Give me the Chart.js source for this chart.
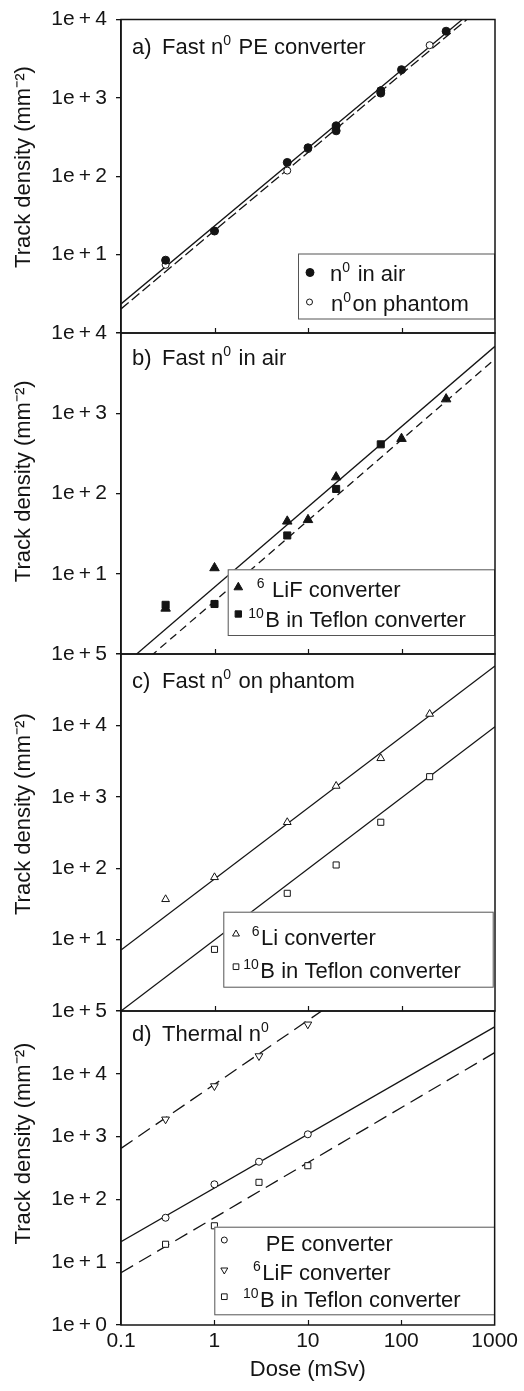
<!DOCTYPE html>
<html>
<head>
<meta charset="UTF-8">
<title>Track density vs dose</title>
<script src="https://cdn.jsdelivr.net/npm/chart.js"></script>
<style>
  body { margin: 0; background: #fff; }
  #wrap { position: relative; width: 524px; height: 1391px; }
  #wrap canvas { position: absolute; left: 0; }
</style>
</head>
<body>
<div id="wrap">
  <canvas id="panelA" width="524" height="353" style="top:0px"></canvas>
  <canvas id="panelB" width="524" height="361" style="top:313px"></canvas>
  <canvas id="panelC" width="524" height="397" style="top:634px"></canvas>
  <canvas id="panelD" width="524" height="400" style="top:991px"></canvas>
</div>
<script>
// shared dose axis
const xTicks = [0.1, 1, 10, 100, 1000];
const xTickLabels = ['0.1', '1', '10', '100', '1000'];
const fitX = [0.1, 1000];

// a) fast n0, PE converter
const doseAirA = [0.3, 1, 6, 10, 20, 20, 60, 60, 100, 300];
const airA = [8.5, 20, 150, 231, 437, 380, 1232, 1150, 2290, 7090];
const dosePhantomA = [0.3, 1, 6, 10, 20, 60, 200];
const phantomA = [7.4, 20, 118, 222, 445, 1250, 4700];
const fitAirA = [2.35, 22300];
const fitPhantomA = [2.03, 20000];
const yTicksA = [1, 10, 100, 1000, 10000];
const yLabelsA = ['', '1e+1', '1e+2', '1e+3', '1e+4'];

// b) fast n0 in air
const doseLiFB = [0.3, 1, 6, 10, 20, 100, 300];
const lifB = [3.7, 11.8, 45, 47, 160, 482, 1500];
const doseBorB = [0.3, 1, 6, 20, 60];
const borB = [4.1, 4.2, 30, 114, 410];
const fitLiFB = [0.68, 6820];
const fitBorB = [0.45, 4730];
const yTicksB = [1, 10, 100, 1000, 10000];
const yLabelsB = ['', '1e+1', '1e+2', '1e+3', '1e+4'];

// c) fast n0 on phantom
const doseLiC = [0.3, 1, 6, 20, 60, 200];
const liC = [36.7, 74.5, 440, 1417, 3460, 14450];
const doseBorC = [1, 6, 20, 60, 200];
const borC = [7.3, 44.5, 111, 440, 1914];
const fitLiC = [7.15, 67900];
const fitBorC = [1.0, 9600];
const yTicksC = [1, 10, 100, 1000, 10000, 100000];
const yLabelsC = ['', '1e+1', '1e+2', '1e+3', '1e+4', '1e+5'];

// d) thermal n0
const doseD = [0.3, 1, 3, 10];
const peD = [51, 174, 398, 1088];
const lifD = [1885, 6390, 19200, 61400];
const borD = [19.3, 38, 187, 344];
const fitPeD = [21.2, 56000];
const fitLiFD = [650, 7700000];
const fitBorD = [6.8, 21700];
const yTicksD = [1, 10, 100, 1000, 10000, 100000];
const yLabelsD = ['1e+0', '1e+1', '1e+2', '1e+3', '1e+4', '1e+5'];

const INK = '#141414';
const FONT = "'Liberation Sans', Arial, Helvetica, sans-serif";
const MAIN = 22, SUP = 14, RAISE = 9;

function pts(xs, ys) { return xs.map((x, i) => ({ x: x, y: ys[i] })); }

function marks(xs, ys, style, r, filled, rot) {
  return {
    data: pts(xs, ys), showLine: false,
    pointStyle: style, pointRadius: r, pointRotation: rot || 0,
    pointBackgroundColor: filled ? INK : '#fff', pointBorderColor: INK, pointBorderWidth: 1
  };
}
function fit(ys, dash) {
  return {
    data: pts(fitX, ys), showLine: true, pointRadius: 0,
    borderColor: INK, borderWidth: 1.3, borderDash: dash || []
  };
}

// text with ^superscript parts
function drawRich(ctx, parts, x, y) {
  parts.forEach(p => {
    const sup = p[0] === '^';
    const t = sup ? p.slice(1) : p;
    ctx.font = (sup ? SUP : MAIN) + 'px ' + FONT;
    ctx.fillText(t, x, sup ? y - RAISE : y);
    x += ctx.measureText(t).width + (sup ? 1.5 : 0);
  });
}

const panelDeco = {
  id: 'panelDeco',
  afterDatasetsDraw(chart, args, o) {
    const ctx = chart.ctx, a = chart.chartArea, L = a.left, T = a.top;
    ctx.save();
    ctx.textBaseline = 'alphabetic';
    ctx.textAlign = 'left';

    // legend box
    const [x0, y0, x1, y1] = o.box;
    ctx.fillStyle = '#fff';
    ctx.fillRect(L + x0, T + y0, x1 - x0, y1 - y0);
    ctx.strokeStyle = '#555';
    ctx.lineWidth = 1;
    ctx.strokeRect(L + x0 + 0.5, T + y0 + 0.5, x1 - x0, y1 - y0);
    o.items.forEach(it => {
      ctx.fillStyle = it.filled ? INK : '#fff';
      ctx.strokeStyle = INK;
      ctx.lineWidth = 1;
      Chart.helpers.drawPoint(ctx, { pointStyle: it.style, radius: it.r, rotation: it.rot || 0, borderWidth: 1 }, L + it.mx, T + it.my);
      ctx.fillStyle = INK;
      drawRich(ctx, it.text, L + it.tx, T + it.ty);
    });

    // panel caption
    ctx.fillStyle = INK;
    ctx.font = MAIN + 'px ' + FONT;
    ctx.fillText(o.tag, L + 11, T + o.capY);
    drawRich(ctx, o.caption, L + 41, T + o.capY);

    // frame + inward ticks on the bottom edge
    ctx.strokeStyle = INK;
    ctx.lineWidth = 1.5;
    ctx.strokeRect(a.left, a.top, a.right - a.left, a.bottom - a.top);
    ctx.lineWidth = 1.2;
    const xs = chart.scales.x;
    xTicks.slice(1, -1).forEach(v => {
      const px = Math.round(xs.getPixelForValue(v)) + 0.5;
      ctx.beginPath();
      ctx.moveTo(px, a.bottom);
      ctx.lineTo(px, a.bottom - 5);
      ctx.stroke();
    });
    ctx.restore();
  }
};

function makePanel(id, p) {
  return new Chart(document.getElementById(id), {
    type: 'scatter',
    data: { datasets: p.datasets },
    options: {
      responsive: false,
      animation: false,
      events: [],
      layout: { padding: { top: p.padTop, right: 29, left: 0, bottom: 0 } },
      plugins: { legend: { display: false }, tooltip: { enabled: false }, panelDeco: p.deco },
      scales: {
        x: {
          type: 'logarithmic', min: 0.1, max: 1000,
          afterBuildTicks: s => { s.ticks = xTicks.map(v => ({ value: v })); },
          afterFit: s => { s.height = p.xHeight; },
          grid: { display: false, drawTicks: false },
          border: { display: false },
          ticks: {
            display: p.showX, autoSkip: false, maxRotation: 0, padding: 6, color: INK,
            font: { family: FONT, size: 21, lineHeight: 1 },
            callback: (v, i) => xTickLabels[i]
          },
          title: {
            display: p.showX, text: 'Dose (mSv)', color: INK,
            font: { family: FONT, size: 22 }, padding: { top: 0, bottom: 8 }
          }
        },
        y: {
          type: 'logarithmic', min: p.yTicks[0], max: p.yTicks[p.yTicks.length - 1],
          afterBuildTicks: s => { s.ticks = p.yTicks.map(v => ({ value: v })); },
          afterFit: s => { s.width = 121; },
          grid: { drawOnChartArea: false, drawTicks: true, tickLength: 5, color: INK, lineWidth: 1.3 },
          border: { display: true, color: INK, width: 1.5 },
          ticks: {
            autoSkip: false, padding: 9, color: INK,
            font: { family: FONT, size: 21, lineHeight: 1 },
            callback: (v, i) => p.yLabels[i].replace('+', '\u2009+\u2009')
          },
          title: {
            display: true,
            // leading blanks nudge the rotated title up, as in the original
            text: ' '.repeat(p.titleLift) + 'Track density (mm\u207B\u00B2)', color: INK,
            font: { family: FONT, size: 22 }, padding: { top: 11, bottom: 0 }
          }
        }
      }
    },
    plugins: [panelDeco]
  });
}

makePanel('panelA', {
  padTop: 12, xHeight: 20, showX: false, titleLift: 3, yTicks: yTicksA, yLabels: yLabelsA,
  datasets: [
    marks(doseAirA, airA, 'circle', 4, true),
    marks(dosePhantomA, phantomA, 'circle', 3.5, false),
    fit(fitAirA),
    fit(fitPhantomA, [10, 4])
  ],
  deco: {
    tag: 'a)', caption: ['Fast n', '^0', ' PE converter'], capY: 34.5,
    box: [177, 234, 373, 299],
    items: [
      { style: 'circle', r: 4, filled: true, mx: 189, my: 253, tx: 209, ty: 261, text: ['n', '^0', ' in air'] },
      { style: 'circle', r: 3, filled: false, mx: 188.5, my: 282.5, tx: 210, ty: 291, text: ['n', '^0', 'on phantom'] }
    ]
  }
});

makePanel('panelB', {
  padTop: 20, xHeight: 20, showX: false, titleLift: 4, yTicks: yTicksB, yLabels: yLabelsB,
  datasets: [
    marks(doseBorB, borB, 'rect', 5, true),
    marks(doseLiFB, lifB, 'triangle', 5.5, true),
    fit(fitLiFB),
    fit(fitBorB, [8, 5])
  ],
  deco: {
    tag: 'b)', caption: ['Fast n', '^0', ' in air'], capY: 31.5,
    box: [106.7, 236.3, 373, 302],
    items: [
      { style: 'triangle', r: 5, filled: true, mx: 117.3, my: 254.3, tx: 135.7, ty: 264, text: ['^6', ' LiF converter'] },
      { style: 'rect', r: 4.5, filled: true, mx: 117.3, my: 281, tx: 127.3, ty: 294, text: ['^10', 'B in Teflon converter'] }
    ]
  }
});

makePanel('panelC', {
  padTop: 20, xHeight: 20, showX: false, titleLift: 6, yTicks: yTicksC, yLabels: yLabelsC,
  datasets: [
    marks(doseLiC, liC, 'triangle', 4.5, false),
    marks(doseBorC, borC, 'rect', 4.3, false),
    fit(fitLiC),
    fit(fitBorC)
  ],
  deco: {
    tag: 'c)', caption: ['Fast n', '^0', ' on phantom'], capY: 34.3,
    box: [102.3, 257.7, 371.7, 332.7],
    items: [
      { style: 'triangle', r: 4, filled: false, mx: 115, my: 280, tx: 130.7, ty: 291, text: ['^6', 'Li converter'] },
      { style: 'rect', r: 4, filled: false, mx: 115, my: 312.7, tx: 122.3, ty: 324.3, text: ['^10', 'B in Teflon converter'] }
    ]
  }
});

makePanel('panelD', {
  padTop: 20, xHeight: 66, showX: true, titleLift: 8, yTicks: yTicksD, yLabels: yLabelsD,
  datasets: [
    marks(doseD, peD, 'circle', 3.5, false),
    marks(doseD, lifD, 'triangle', 4.5, false, 180),
    marks(doseD, borD, 'rect', 4.3, false),
    fit(fitPeD),
    fit(fitLiFD, [14, 7]),
    fit(fitBorD, [14, 7])
  ],
  deco: {
    tag: 'd)', caption: ['Thermal n', '^0'], capY: 30,
    box: [93.3, 215.7, 373, 303.3],
    items: [
      { style: 'circle', r: 3, filled: false, mx: 103.3, my: 229, tx: 144.7, ty: 239.7, text: ['PE converter'] },
      { style: 'triangle', r: 4, filled: false, rot: 180, mx: 103.3, my: 259, tx: 132, ty: 269, text: ['^6', 'LiF converter'] },
      { style: 'rect', r: 4, filled: false, mx: 103.3, my: 285.7, tx: 122, ty: 295.7, text: ['^10', 'B in Teflon converter'] }
    ]
  }
});
</script>
</body>
</html>
